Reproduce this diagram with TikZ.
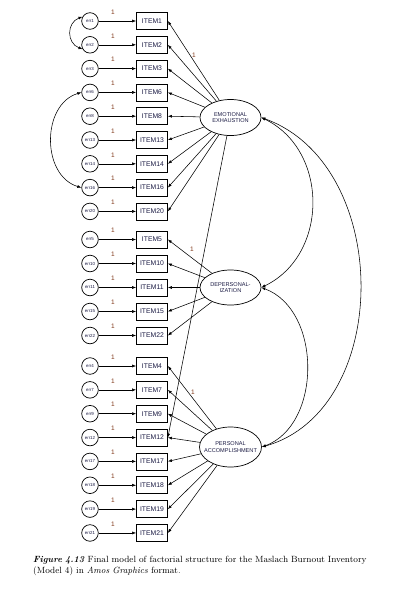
\documentclass[tikz,border=0pt]{standalone}
\usepackage{xcolor}
\usepackage{fontspec}
\setsansfont{Liberation Sans}
\usepackage{tikz}
\usetikzlibrary{arrows.meta,shapes.geometric}
\definecolor{itemblue}{rgb}{0.10,0.10,0.26}
\definecolor{onebrown}{rgb}{0.50,0.22,0.10}

\begin{document}
\begin{tikzpicture}[x=1pt,y=-1pt,
    item/.style={draw,line width=0.7pt,minimum width=31pt,minimum height=17pt,inner sep=0pt,
        font=\sffamily\fontsize{6.8}{7}\selectfont,text=itemblue},
    err/.style={draw,circle,line width=0.7pt,minimum size=16.6pt,inner sep=0pt,
        font=\sffamily\fontsize{4.4}{4.4}\selectfont,text=itemblue},
    factor/.style={draw,ellipse,line width=0.7pt,minimum width=61pt,minimum height=36pt,inner sep=0pt},
    factorlabel/.style={align=center,inner sep=0pt,font=\sffamily\fontsize{5.6}{6.4}\selectfont,text=itemblue},
    one/.style={font=\sffamily\fontsize{6.5}{7}\selectfont,text=onebrown},
    load/.style={line width=0.55pt,-{Latex[length=4pt,width=3pt]}},
    cov/.style={line width=0.55pt,{Latex[length=4pt,width=3pt]}-{Latex[length=4pt,width=3pt]}}]
    \useasboundingbox (0,0) rectangle (409,595);

    % emotional exhaustion
    \foreach \n [count=\i from 0] in {1,2,3,6,8,13,14,16,20} {
        \node[item] (item\n) at (152,21+23.8*\i) {ITEM\n};
        \node[err] (err\n) at (90,21+23.8*\i) {err\n};
        \draw[load] (err\n) -- (item\n);
        \node[one] at (113,12+23.8*\i) {1};
    }
    % depersonalization
    \foreach \n [count=\i from 0] in {5,10,11,15,22} {
        \node[item] (item\n) at (152,239.5+24*\i) {ITEM\n};
        \node[err] (err\n) at (90,239.5+24*\i) {err\n};
        \draw[load] (err\n) -- (item\n);
        \node[one] at (113,230.5+24*\i) {1};
    }
    % personal accomplishment
    \foreach \n [count=\i from 0] in {4,7,9,12,17,18,19,21} {
        \node[item] (item\n) at (152,366+23.85*\i) {ITEM\n};
        \node[err] (err\n) at (90,366+23.85*\i) {err\n};
        \draw[load] (err\n) -- (item\n);
        \node[one] at (113,357+23.85*\i) {1};
    }

    \node[factor] (EE) at (230.5,117.5) {};
    \node[factorlabel] at (EE) {EMOTIONAL\\EXHAUSTION};
    \node[factor,minimum height=35pt] (DP) at (230.5,287.5) {};
    \node[factorlabel] at (DP) {DEPERSONAL-\\IZATION};
    \node[factor,minimum width=62pt,minimum height=40pt] (PA) at (230.5,447) {};
    \node[factorlabel] at (PA) {PERSONAL\\ACCOMPLISHMENT};

    % loadings
    \foreach \n in {1,2,3,6,8,13,14,16,20} \draw[load] (EE) -- (item\n.east);
    \foreach \n in {5,10,11,15,22} \draw[load] (DP) -- (item\n.east);
    \foreach \n in {4,7,9,12,17,18,19,21} \draw[load] (PA) -- (item\n.east);
    \draw[load] (EE) -- (item12.east); % cross-loading
    \node[one] at (194,55) {1};
    \node[one] at (192,249) {1};
    \node[one] at (193,392) {1};

    % factor covariances
    \draw[cov] (EE.east) .. controls (329,150) and (329,255) .. (DP.east);
    \draw[cov] (EE.east) .. controls (393,165) and (393,410) .. (PA.east);
    \draw[cov] (DP.east) .. controls (322,310) and (322,425) .. (PA.east);

    % error covariances
    \draw[cov] (err1.150) .. controls +(-16,6) and +(-16,-6) .. (err2.210);
    \draw[cov] (err6.west) .. controls +(-40,12) and +(-40,-12) .. (err16.west);

    \node[anchor=north west,text width=370pt,align=left,inner sep=0pt,
        font=\fontsize{9.0}{11.2}\selectfont] (caption) at (33,555.5)
        {\textbf{\textit{Figure 4.13}}\hspace{0.35em}Final model of factorial structure for the Maslach Burnout Inventory\\(Model 4) in \textit{Amos Graphics} format.};
\end{tikzpicture}
\end{document}
